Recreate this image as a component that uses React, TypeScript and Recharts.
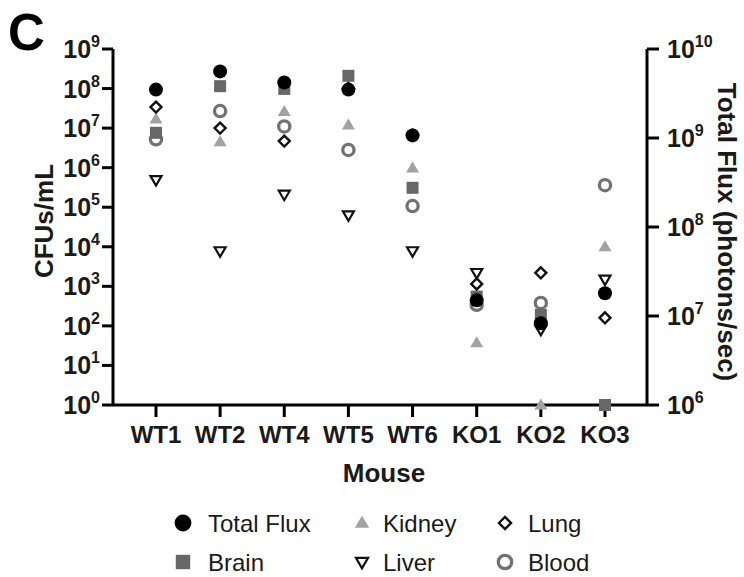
import React from "react";
import { ScatterChart, Scatter, XAxis, YAxis, Label } from "recharts";

// mice on the x axis
const mice = ["WT1", "WT2", "WT4", "WT5", "WT6", "KO1", "KO2", "KO3"];

// total flux, photons/sec (right axis)
const totalFlux = [3.5e9, 5.6e9, 4.2e9, 3.5e9, 1.07e9, 1.5e7, 8.3e6, 1.8e7];

// CFUs/mL per organ (left axis)
const brain = [7.6e6, 1.15e8, 9.8e7, 2.1e8, 3.1e5, 5.5e2, 1.9e2, 1];
const kidney = [1.7e7, 4.5e6, 2.6e7, 1.2e7, 9.8e5, 37, 1, 1e4];
const liver = [4.9e5, 7.8e3, 2.1e5, 6.3e4, 7.8e3, 2.2e3, 80, 1.5e3];
const lung = [3.4e7, 1.0e7, 4.7e6, 1.0e8, 6.7e6, 1.15e3, 2.2e3, 1.6e2];
const blood = [5.2e6, 2.7e7, 1.1e7, 2.8e6, 1.07e5, 3.4e2, 3.8e2, 3.6e5];

const leftTicks = [1, 1e1, 1e2, 1e3, 1e4, 1e5, 1e6, 1e7, 1e8, 1e9];
const rightTicks = [1e6, 1e7, 1e8, 1e9, 1e10];
const xTicks = mice.map((_, i) => i);

const toPoints = (values: number[]) => values.map((y, x) => ({ x, y }));

const FONT = "'Liberation Sans', Arial, Helvetica, sans-serif";
const INK = "#1a1a1a";

type Kind = "circle" | "square" | "triangle" | "triangleDown" | "diamond" | "ring";

function Marker({ kind, cx, cy, s = 1 }: { kind: Kind; cx: number; cy: number; s?: number }) {
  if (cx == null || cy == null) return null;
  switch (kind) {
    case "circle":
      return <circle cx={cx} cy={cy} r={7 * s} fill="#000" />;
    case "square":
      return <rect x={cx - 6 * s} y={cy - 6 * s} width={12 * s} height={12 * s} fill="#676767" />;
    case "triangle": {
      const w = 6.5 * s;
      const h = 11 * s;
      return (
        <polygon
          points={`${cx},${cy - h * 0.6} ${cx + w},${cy + h * 0.4} ${cx - w},${cy + h * 0.4}`}
          fill="#a2a2a2"
        />
      );
    }
    case "triangleDown": {
      const w = 5.5 * s;
      const h = 9.5 * s;
      return (
        <polygon
          points={`${cx - w},${cy - h * 0.4} ${cx + w},${cy - h * 0.4} ${cx},${cy + h * 0.6}`}
          fill="none"
          stroke="#111"
          strokeWidth={2.2}
          strokeLinejoin="miter"
        />
      );
    }
    case "diamond": {
      const d = 5.5 * s;
      return (
        <polygon
          points={`${cx},${cy - d} ${cx + d},${cy} ${cx},${cy + d} ${cx - d},${cy}`}
          fill="none"
          stroke="#111"
          strokeWidth={2.4}
        />
      );
    }
    case "ring":
      return <circle cx={cx} cy={cy} r={5.6 * s} fill="none" stroke="#727272" strokeWidth={3.3} />;
  }
  return null;
}

const shapeOf = (kind: Kind) => (props: any) => <Marker kind={kind} cx={props.cx} cy={props.cy} />;

function LogTick({ x, y, payload, anchor }: any) {
  const exp = Math.round(Math.log10(payload.value));
  return (
    <text x={x} y={y + 9} textAnchor={anchor} fill={INK} fontFamily={FONT} fontWeight="bold">
      <tspan fontSize={25}>10</tspan>
      <tspan fontSize={16} dy={-11}>
        {exp}
      </tspan>
    </text>
  );
}

function MouseTick({ x, y, payload }: any) {
  return (
    <text x={x} y={y + 26} textAnchor="middle" fill={INK} fontFamily={FONT} fontWeight="bold" fontSize={24}>
      {mice[payload.value]}
    </text>
  );
}

const legendItems: { name: string; kind: Kind }[] = [
  { name: "Total Flux", kind: "circle" },
  { name: "Kidney", kind: "triangle" },
  { name: "Lung", kind: "diamond" },
  { name: "Brain", kind: "square" },
  { name: "Liver", kind: "triangleDown" },
  { name: "Blood", kind: "ring" },
];

export default function App() {
  const axisLine = { stroke: "#000", strokeWidth: 3 };
  const tickLine = { stroke: "#000", strokeWidth: 3 };
  return (
    <div style={{ position: "relative", width: 744, height: 577, background: "#fff" }}>
      <style>{"body{margin:0}"}</style>
      <ScatterChart width={744} height={577} margin={{ top: 49, right: 37, bottom: 142, left: 53 }}>
        <XAxis
          type="number"
          dataKey="x"
          domain={[-0.67, 7.655]}
          ticks={xTicks}
          interval={0}
          height={30}
          axisLine={axisLine}
          tickLine={tickLine}
          tickSize={12}
          tickMargin={0}
          tick={<MouseTick />}
        >
          <Label
            content={({ viewBox }: any) => (
              <text
                x={viewBox.x + viewBox.width / 2 + 4}
                y={viewBox.y + 77}
                textAnchor="middle"
                fill={INK}
                fontFamily={FONT}
                fontWeight="bold"
                fontSize={26}
              >
                Mouse
              </text>
            )}
          />
        </XAxis>
        <YAxis
          yAxisId="left"
          type="number"
          dataKey="y"
          scale="log"
          domain={[1, 1e9]}
          ticks={leftTicks}
          interval={0}
          width={60}
          axisLine={axisLine}
          tickLine={tickLine}
          tickSize={11}
          tickMargin={2}
          tick={<LogTick anchor="end" />}
        >
          <Label
            content={({ viewBox }: any) => (
              <text
                x={viewBox.x}
                y={221}
                transform={`rotate(-90 ${viewBox.x} 221)`}
                textAnchor="middle"
                fill={INK}
                fontFamily={FONT}
                fontWeight="bold"
                fontSize={26}
              >
                CFUs/mL
              </text>
            )}
          />
        </YAxis>
        <YAxis
          yAxisId="right"
          orientation="right"
          type="number"
          dataKey="y"
          scale="log"
          domain={[1e6, 1e10]}
          ticks={rightTicks}
          interval={0}
          width={60}
          axisLine={axisLine}
          tickLine={tickLine}
          tickSize={12}
          tickMargin={8}
          tick={<LogTick anchor="start" />}
        >
          <Label
            content={() => (
              <text
                x={718}
                y={232}
                transform="rotate(90 718 232)"
                textAnchor="middle"
                fill={INK}
                fontFamily={FONT}
                fontWeight="bold"
                fontSize={26}
              >
                Total Flux (photons/sec)
              </text>
            )}
          />
        </YAxis>
        <Scatter name="Blood" yAxisId="left" data={toPoints(blood)} shape={shapeOf("ring")} isAnimationActive={false} />
        <Scatter name="Brain" yAxisId="left" data={toPoints(brain)} shape={shapeOf("square")} isAnimationActive={false} />
        <Scatter name="Liver" yAxisId="left" data={toPoints(liver)} shape={shapeOf("triangleDown")} isAnimationActive={false} />
        <Scatter name="Kidney" yAxisId="left" data={toPoints(kidney)} shape={shapeOf("triangle")} isAnimationActive={false} />
        <Scatter name="Lung" yAxisId="left" data={toPoints(lung)} shape={shapeOf("diamond")} isAnimationActive={false} />
        <Scatter name="Total Flux" yAxisId="right" data={toPoints(totalFlux)} shape={shapeOf("circle")} isAnimationActive={false} />
      </ScatterChart>

      <svg width={744} height={577} style={{ position: "absolute", left: 0, top: 0, pointerEvents: "none" }}>
        <text x={8} y={50} fill="#000" fontFamily={FONT} fontWeight="bold" fontSize={51}>
          C
        </text>
        {legendItems.map((item, i) => {
          const col = i % 3;
          const row = Math.floor(i / 3);
          const mx = [183, 362, 505][col];
          const tx = [208, 383, 528][col];
          const my = [523, 562][row];
          return (
            <g key={item.name}>
              <Marker kind={item.kind} cx={mx} cy={my} s={item.kind === "circle" || item.kind === "square" || item.kind === "ring" ? 1.2 : 1.1} />
              <text x={tx} y={my + 9} fill={INK} fontFamily={FONT} fontSize={24}>
                {item.name}
              </text>
            </g>
          );
        })}
      </svg>
    </div>
  );
}
